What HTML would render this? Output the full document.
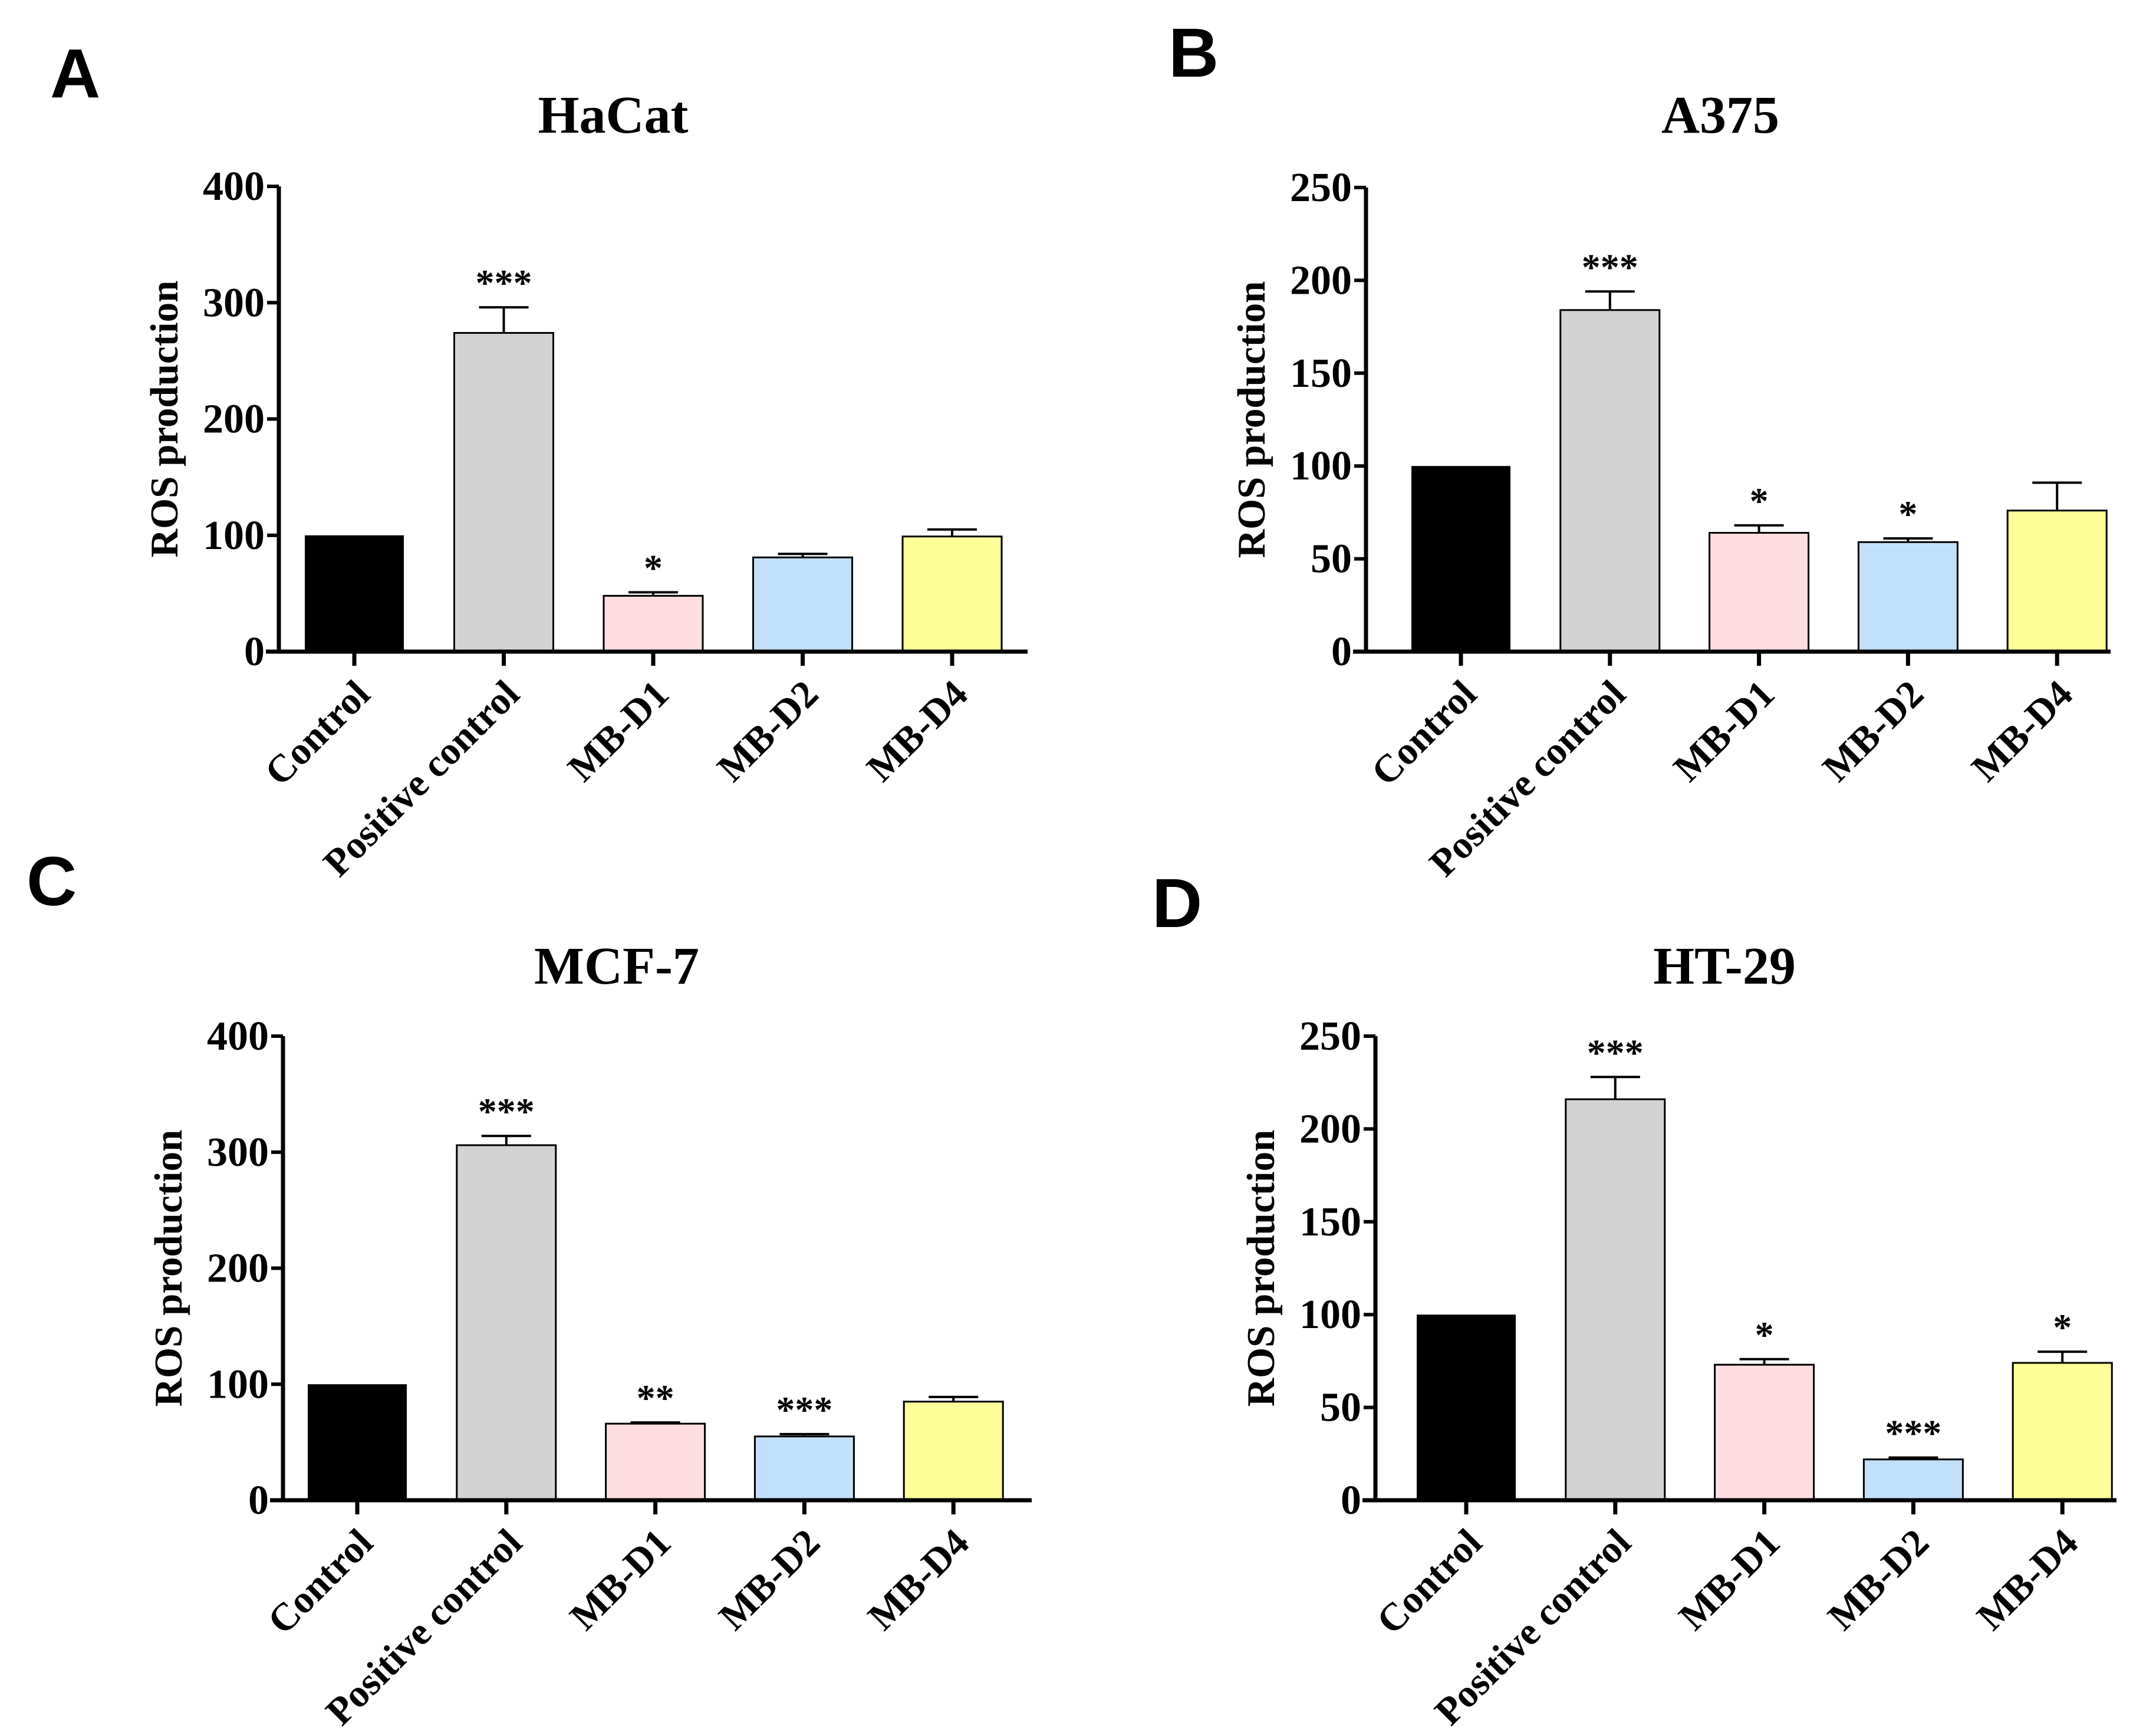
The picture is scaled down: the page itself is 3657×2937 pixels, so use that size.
<!DOCTYPE html>
<html><head><meta charset="utf-8"><style>
html,body{margin:0;padding:0;background:#fff;width:3657px;height:2937px;overflow:hidden}
svg{display:block}
.serif{font-family:"Liberation Serif",serif;font-weight:bold}
.sans{font-family:"Liberation Sans",sans-serif;font-weight:bold}
</style></head><body>
<svg id="fig" width="3657" height="2937" viewBox="0 0 3657 2937" xmlns="http://www.w3.org/2000/svg"></svg>
<script>
const categories = ["Control","Positive control","MB-D1","MB-D2","MB-D4"];
const colors = ["#000000","#d3d3d3","#ffdde0","#c2e0fa","#ffff99"];
const valuesA = [100,274,48,81,99];
const errorsA = [0,22,3,3,6];
const starsA = ["","***","*","",""];
const valuesB = [100,184,64,59,76];
const errorsB = [0,10,4,2,15];
const starsB = ["","***","*","*",""];
const valuesC = [100,306,66,55,85];
const errorsC = [0,8,1,2,4];
const starsC = ["","***","**","***",""];
const valuesD = [100,216,73,22,74];
const errorsD = [0,12,3,1,6];
const starsD = ["","***","*","***","*"];
const ticks400 = [0,100,200,300,400];
const ticks250 = [0,50,100,150,200,250];

const NS="http://www.w3.org/2000/svg";
const svg=document.getElementById('fig');
function mk(tag,attrs,parent,text){const e=document.createElementNS(NS,tag);for(const k in attrs)e.setAttribute(k,attrs[k]);if(text!==undefined)e.textContent=text;(parent||svg).appendChild(e);return e;}

const panels=[
 {id:"a",letter:"A",lx:85,ly:165,title:"HaCat",tx:1040,ty:225,ax:473,top:316,bot:1105,right:1743,c0:601,step:253.5,max:400,ticks:ticks400,vals:valuesA,errs:errorsA,stars:starsA},
 {id:"b",letter:"B",lx:1982,ly:130,title:"A375",tx:2918,ty:225,ax:2317,top:318,bot:1105,right:3580,c0:2478,step:252.8,max:250,ticks:ticks250,vals:valuesB,errs:errorsB,stars:starsB},
 {id:"c",letter:"C",lx:45,ly:1535,title:"MCF-7",tx:1046,ty:1668,ax:480,top:1757,bot:2544,right:1750,c0:606,step:252.8,max:400,ticks:ticks400,vals:valuesC,errs:errorsC,stars:starsC},
 {id:"d",letter:"D",lx:1954,ly:1572,title:"HT-29",tx:2925,ty:1668,ax:2333,top:1757,bot:2544,right:3590,c0:2487,step:252.8,max:250,ticks:ticks250,vals:valuesD,errs:errorsD,stars:starsD}
];

panels.forEach(p=>{
  const g=mk('g',{});
  
  
  const y=v=>p.bot-(v/p.max)*(p.bot-p.top);
  const x=i=>p.c0+i*p.step;
  const L=mk('text',{x:p.lx,y:p.ly,class:'sans','font-size':118},g,p.letter);
  
  
  const T=mk('text',{x:p.tx,y:p.ty,class:'serif','font-size':90,'text-anchor':'middle'},g,p.title);
  
  
  const yt=(p.top+p.bot)/2;
  const YT=mk('text',{x:0,y:0,class:'serif','font-size':67,'text-anchor':'middle',transform:`translate(${p.ax-172},${yt}) rotate(-90)`},g,'ROS production');
  
  
  p.vals.forEach((v,i)=>{
    const w=168,bx=x(i)-w/2,by=y(v);
    if(p.errs[i]>0){
      const ey=y(v+p.errs[i]);
      const el=mk('path',{d:`M${x(i)},${by} V${ey} M${x(i)-42},${ey} H${x(i)+42}`,stroke:'#000','stroke-width':4,fill:'none'},g);
      
      
    }
    const r=mk('rect',{x:bx,y:by,width:w,height:p.bot-by,fill:colors[i],stroke:'#000','stroke-width':i===0?0:3},g);
    
    
    if(p.stars[i]){
      const sy=y(v+p.errs[i])-20;
      const s=mk('text',{x:x(i),y:sy,class:'serif','font-size':64,'text-anchor':'middle'},g,p.stars[i]);
      
      
    }
    const tk=mk('line',{x1:x(i),x2:x(i),y1:p.bot,y2:p.bot+24,stroke:'#000','stroke-width':7},g);
    
    
    const cl=mk('text',{x:0,y:0,class:'serif','font-size':66,'text-anchor':'end',transform:`translate(${x(i)+30},${p.bot+76}) rotate(-45)`},g,categories[i]);
    
    
  });
  const ya=mk('line',{x1:p.ax,x2:p.ax,y1:p.top,y2:p.bot+3,stroke:'#000','stroke-width':7},g);
  
  
  const xa=mk('line',{x1:p.ax-22,x2:p.right,y1:p.bot,y2:p.bot,stroke:'#000','stroke-width':7},g);
  
  
  p.ticks.forEach(t=>{
    const ty=y(t);
    const tl=mk('line',{x1:p.ax-20,x2:p.ax,y1:ty,y2:ty,stroke:'#000','stroke-width':6},g);
    
    
    const tt=mk('text',{x:p.ax-24,y:ty+23,class:'serif','font-size':70,'text-anchor':'end'},g,String(t));
    
    
  });
});
</script>
</body></html>
